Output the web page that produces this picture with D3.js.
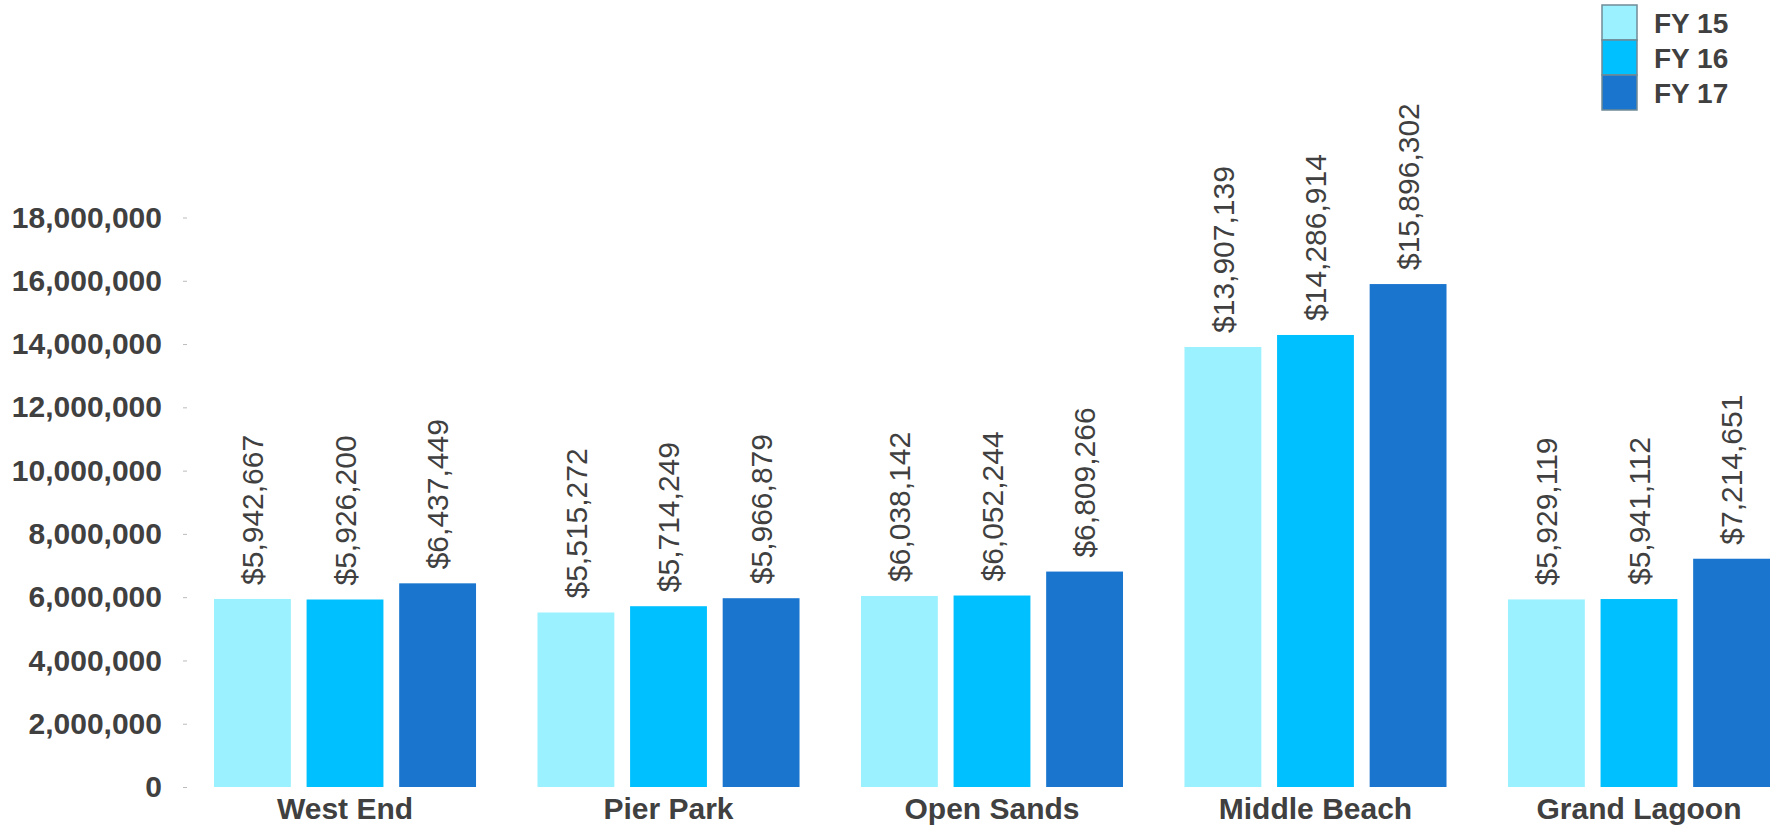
<!DOCTYPE html>
<html>
<head>
<meta charset="utf-8">
<script src="https://cdn.jsdelivr.net/npm/d3@7"></script>
<style>
  body { margin: 0; background: #fff; }
  text { font-family: "Liberation Sans", Arial, sans-serif; }
</style>
</head>
<body>
<div id="chartContainer"></div>
<script>
const areas = ["West End", "Pier Park", "Open Sands", "Middle Beach", "Grand Lagoon"];
const years = ["FY 15", "FY 16", "FY 17"];
const fy15 = [5942667, 5515272, 6038142, 13907139, 5929119];
const fy16 = [5926200, 5714249, 6052244, 14286914, 5941112];
const fy17 = [6437449, 5966879, 6809266, 15896302, 7214651];
const yTicks = [0, 2000000, 4000000, 6000000, 8000000, 10000000, 12000000, 14000000, 16000000, 18000000];
const colors = ["#9bf1ff", "#00c0ff", "#1a75cf"];

const series = [fy15, fy16, fy17];
const rows = areas.map((a, i) => ({
    area: a,
    values: years.map((yr, j) => ({ year: yr, value: series[j][i] }))
}));

const width = 1777, height = 826;
const textColor = "#404040";

const svg = d3.select("#chartContainer").append("svg")
    .attr("width", width)
    .attr("height", height);

const x0 = d3.scaleBand().domain(areas).range([214, 1770]).paddingInner(0.19).paddingOuter(0);
const x1 = d3.scaleBand().domain(years).range([0, x0.bandwidth()]).paddingInner(0.17);
const y = d3.scaleLinear().domain([0, 18000000]).range([787, 217.5]);
const color = d3.scaleOrdinal().domain(years).range(colors);

// y axis: ticks only, no domain line
const yAxis = svg.append("g")
    .attr("transform", "translate(187,0)")
    .call(d3.axisLeft(y).tickValues(yTicks).tickFormat(d3.format(",")).tickSize(4).tickPadding(21));
yAxis.select(".domain").remove();
yAxis.selectAll(".tick line").attr("stroke", "#bbb");
yAxis.selectAll(".tick text")
    .attr("fill", textColor)
    .style("font-size", "30px")
    .style("font-weight", "bold")
    .style("font-family", "'Liberation Sans', Arial, sans-serif");

const groups = svg.selectAll(".group")
    .data(rows)
    .enter().append("g")
    .attr("class", "group")
    .attr("transform", d => `translate(${x0(d.area)},0)`);

groups.selectAll("rect")
    .data(d => d.values)
    .enter().append("rect")
    .attr("x", d => x1(d.year))
    .attr("y", d => y(d.value))
    .attr("width", x1.bandwidth())
    .attr("height", d => y(0) - y(d.value))
    .attr("fill", d => color(d.year));

const money = v => "$" + d3.format(",")(v);

groups.selectAll(".val")
    .data(d => d.values)
    .enter().append("text")
    .attr("class", "val")
    .attr("transform", d => `translate(${x1(d.year) + x1.bandwidth() / 2},${y(d.value) - 14}) rotate(-90)`)
    .attr("dy", "0.36em")
    .attr("text-anchor", "start")
    .attr("fill", textColor)
    .style("font-size", "30px")
    .text(d => money(d.value));

// category labels
svg.selectAll(".cat")
    .data(areas)
    .enter().append("text")
    .attr("class", "cat")
    .attr("x", d => x0(d) + x0.bandwidth() / 2)
    .attr("y", 819)
    .attr("text-anchor", "middle")
    .attr("fill", textColor)
    .style("font-size", "30px")
    .style("font-weight", "bold")
    .text(d => d);

// legend
const legend = svg.append("g").attr("transform", "translate(1602,5)");
const item = legend.selectAll(".item")
    .data(years)
    .enter().append("g")
    .attr("class", "item")
    .attr("transform", (d, i) => `translate(0,${i * 35})`);

item.append("rect")
    .attr("width", 35)
    .attr("height", 35)
    .attr("fill", d => color(d))
    .attr("stroke", "#6f8a96")
    .attr("stroke-width", 1.5);

item.append("text")
    .attr("x", 52)
    .attr("y", 18)
    .attr("dy", "0.35em")
    .attr("fill", textColor)
    .style("font-size", "28px")
    .style("font-weight", "bold")
    .text(d => d);
</script>
</body>
</html>
